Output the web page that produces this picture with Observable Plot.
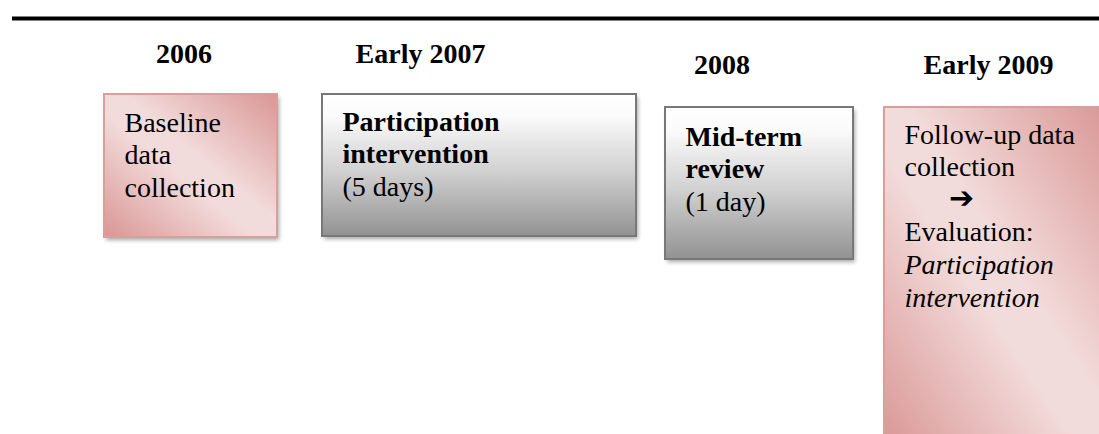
<!DOCTYPE html>
<html>
<head>
<meta charset="utf-8">
<script src="https://cdn.jsdelivr.net/npm/d3@7"></script>
<script src="https://cdn.jsdelivr.net/npm/@observablehq/plot@0.6"></script>
<style>
  html, body { margin: 0; padding: 0; background: #ffffff; overflow: hidden; }
  #chart svg { display: block; }
</style>
</head>
<body>
<div id="chart"></div>
<script>
// ---- content ----
const periods = ["2006", "Early 2007", "2008", "Early 2009"];
const boxNames = ["Baseline data collection", "Participation intervention", "Mid-term review", "Follow-up & evaluation"];
const boxKind = ["pink", "grey", "grey", "pink"];
const lineText = [
  "Baseline", "data", "collection",
  "Participation", "intervention", "(5 days)",
  "Mid-term", "review", "(1 day)",
  "Follow-up data", "collection", "\u2794", "Evaluation:", "Participation", "intervention"
];
const lineBox   = [0, 0, 0, 1, 1, 1, 2, 2, 2, 3, 3, 3, 3, 3, 3];
const lineRow   = [0, 1, 2, 0, 1, 2, 0, 1, 2, 0, 1, 2, 3, 4, 5];
const lineStyle = ["normal", "normal", "normal", "bold", "bold", "normal", "bold", "bold", "normal",
                   "normal", "normal", "arrow", "normal", "italic", "italic"];

// ---- layout (diagram units = pixels of the 1099x434 frame) ----
const W = 1099, H = 434;
const periodCenter = [183.5, 420, 721.5, 988];
const periodBaseline = [62, 62, 73, 73];
const boxLeft = [104, 322, 665, 884];
const boxRight = [277, 636, 853, 1110];
const boxTop = [94, 94, 107, 107];
const boxBottom = [237, 236, 259, 450];
const firstBaseline = [131, 130, 145, 143];
const rowStep = 32.6;
const textInset = 20;
const topRule = [{y: 18, x1: 12, x2: W}];

const headers = periods.map((p, i) => ({label: p, x: periodCenter[i], y: periodBaseline[i]}));
const boxes = boxNames.map((n, i) => ({name: n, kind: boxKind[i], x1: boxLeft[i], x2: boxRight[i], y1: boxTop[i], y2: boxBottom[i]}));
const lines = lineText.map((t, i) => ({
  text: t,
  style: lineStyle[i],
  x: boxLeft[lineBox[i]] + textInset + (lineStyle[i] === "arrow" ? 57 : 0),
  y: firstBaseline[lineBox[i]] + lineRow[i] * rowStep - (lineStyle[i] === "arrow" ? 10 : 0)
}));

const serif = "'Liberation Serif', 'Times New Roman', Times, serif";
const textOpts = () => ({
  x: "x", y: "y", text: "text", textAnchor: "start", lineAnchor: "bottom",
  fontSize: 28, fontFamily: serif, fill: "#000"
});

const svg = Plot.plot({
  width: W,
  height: H,
  margin: 0,
  x: {domain: [0, W], range: [0, W], axis: null},
  y: {domain: [0, H], range: [0, H], axis: null},
  style: {background: "#ffffff", overflow: "hidden"},
  marks: [
    Plot.ruleY(topRule, {y: "y", x1: "x1", x2: "x2", stroke: "#000", strokeWidth: 4}),
    // soft shadows
    Plot.rect(boxes, {x1: d => d.x1 + 2, x2: d => d.x2 + 2, y1: d => d.y1 + 3, y2: d => d.y2 + 3, fill: "#000", fillOpacity: 0.35}),
    Plot.rect(boxes.filter(d => d.kind === "pink"), {x1: "x1", x2: "x2", y1: "y1", y2: "y2", fill: "url(#pinkGrad)", stroke: "#dc9e9d", strokeWidth: 2}),
    Plot.rect(boxes.filter(d => d.kind === "grey"), {x1: "x1", x2: "x2", y1: "y1", y2: "y2", fill: "url(#greyGrad)", stroke: "#787878", strokeWidth: 2}),
    Plot.text(headers, {x: "x", y: "y", text: "label", textAnchor: "middle", lineAnchor: "bottom", fontSize: 28, fontWeight: "bold", fontFamily: serif, fill: "#000"}),
    Plot.text(lines.filter(d => d.style === "normal"), {...textOpts(), fontWeight: "normal"}),
    Plot.text(lines.filter(d => d.style === "bold"), {...textOpts(), fontWeight: "bold"}),
    Plot.text(lines.filter(d => d.style === "italic"), {...textOpts(), fontStyle: "italic"}),
    Plot.text(lines.filter(d => d.style === "arrow"), {x: "x", y: "y", text: "text", textAnchor: "middle", lineAnchor: "middle", fontSize: 30, fontFamily: "'DejaVu Sans', sans-serif", fontWeight: "bold", fill: "#000"})
  ]
});

// gradients and blur filter
const root = d3.select(svg);
const defs = root.insert("defs", ":first-child");
const pink = defs.append("linearGradient").attr("id", "pinkGrad")
  .attr("x1", 1).attr("y1", 0).attr("x2", 0).attr("y2", 1);
[[0, "#d99694"], [0.45, "#f2dcdb"], [0.56, "#f2dcdb"], [1, "#d99694"]].forEach(([o, c]) =>
  pink.append("stop").attr("offset", o).attr("stop-color", c));
const grey = defs.append("linearGradient").attr("id", "greyGrad")
  .attr("x1", 0).attr("y1", 0).attr("x2", 0).attr("y2", 1);
[[0, "#ffffff"], [0.15, "#fbfbfb"], [0.55, "#d0d0d0"], [1, "#929292"]].forEach(([o, c]) =>
  grey.append("stop").attr("offset", o).attr("stop-color", c));
const f = defs.append("filter").attr("id", "shadowBlur")
  .attr("x", "-5%").attr("y", "-5%").attr("width", "110%").attr("height", "110%");
f.append("feGaussianBlur").attr("stdDeviation", 2.2);
root.selectAll('g[aria-label="rect"]').filter((d, i) => i === 0).attr("filter", "url(#shadowBlur)");

document.getElementById("chart").appendChild(svg);
</script>
</body>
</html>
